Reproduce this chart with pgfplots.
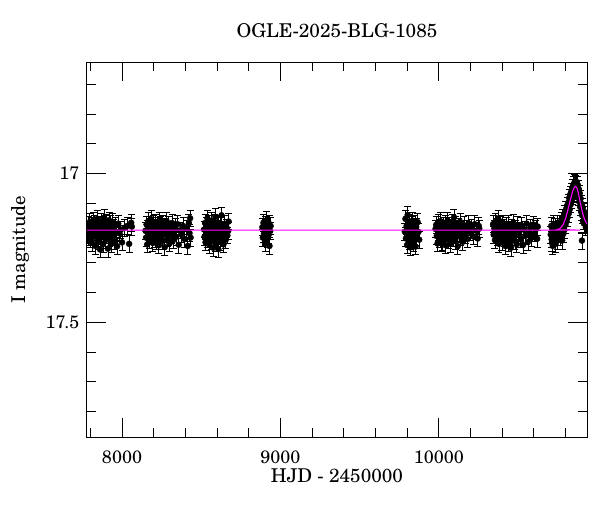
\documentclass[border=0pt]{standalone}
\usepackage{fontspec}
\setmainfont{TeX Gyre Schola}
\usepackage{pgfplots}
\usepackage{pgfplotstable}
\pgfplotsset{compat=1.18}
\definecolor{modelmag}{RGB}{255,0,255}
\newcommand\chartfont{\fontsize{19}{22}\selectfont}
\newcommand\tickfont{\fontsize{18}{21}\selectfont}

% OGLE photometry (HJD-2450000, I mag)
\pgfplotstableread{
x y
7782 17.205
7786 17.172
7789 17.214
7793 17.188
7796 17.163
7800 17.221
7803 17.195
7807 17.176
7810 17.232
7813 17.184
7817 17.158
7820 17.209
7824 17.191
7827 17.168
7831 17.243
7834 17.203
7838 17.179
7841 17.215
7845 17.152
7848 17.197
7852 17.228
7855 17.186
7859 17.171
7862 17.255
7866 17.199
7869 17.162
7873 17.211
7876 17.184
7880 17.237
7883 17.174
7887 17.148
7890 17.206
7894 17.192
7897 17.223
7901 17.165
7904 17.201
7908 17.181
7911 17.252
7915 17.193
7918 17.157
7922 17.218
7925 17.187
7929 17.170
7932 17.236
7936 17.199
7940 17.163
7944 17.208
7948 17.182
7953 17.226
7958 17.175
7963 17.196
7969 17.244
7976 17.168
7984 17.201
7992 17.189
8000 17.231
8015 17.182
8033 17.176
8045 17.236
8058 17.165
8062 17.178
8148 17.192
8152 17.215
8155 17.171
8159 17.238
8162 17.186
8166 17.160
8169 17.207
8173 17.196
8176 17.224
8180 17.178
8183 17.153
8187 17.211
8190 17.189
8194 17.233
8197 17.169
8201 17.202
8204 17.181
8208 17.219
8211 17.164
8215 17.197
8218 17.228
8222 17.175
8225 17.209
8229 17.186
8232 17.241
8236 17.158
8239 17.199
8243 17.213
8246 17.172
8250 17.190
8254 17.226
8258 17.167
8262 17.204
8266 17.183
8270 17.247
8274 17.177
8278 17.201
8282 17.160
8286 17.218
8290 17.192
8295 17.173
8300 17.235
8305 17.188
8310 17.206
8316 17.166
8322 17.224
8328 17.195
8335 17.180
8342 17.212
8350 17.170
8358 17.239
8366 17.191
8375 17.203
8385 17.176
8395 17.220
8405 17.186
8415 17.243
8422 17.166
8426 17.200
8430 17.150
8433 17.215
8518 17.188
8521 17.212
8524 17.166
8527 17.231
8530 17.194
8533 17.174
8536 17.205
8539 17.150
8542 17.221
8545 17.183
8548 17.199
8551 17.240
8554 17.170
8557 17.208
8560 17.186
8563 17.160
8566 17.227
8569 17.193
8572 17.177
8575 17.249
8578 17.202
8581 17.164
8584 17.215
8587 17.189
8590 17.145
8593 17.233
8596 17.196
8599 17.172
8602 17.218
8605 17.185
8608 17.254
8611 17.168
8614 17.203
8617 17.191
8620 17.229
8624 17.175
8628 17.140
8632 17.210
8636 17.187
8640 17.238
8645 17.169
8650 17.199
8655 17.222
8660 17.181
8665 17.208
8670 17.193
8673 17.161
8886 17.180
8889 17.215
8893 17.165
8896 17.202
8900 17.188
8903 17.235
8907 17.171
8910 17.197
8914 17.156
8917 17.221
8921 17.185
8924 17.208
8928 17.168
8931 17.243
8935 17.193
8938 17.176
9785 17.195
9789 17.152
9792 17.218
9796 17.176
9799 17.240
9803 17.139
9806 17.205
9810 17.183
9813 17.227
9817 17.165
9820 17.248
9824 17.191
9827 17.172
9831 17.212
9834 17.158
9838 17.233
9841 17.186
9845 17.201
9849 17.169
9853 17.245
9857 17.180
9861 17.214
9866 17.163
9871 17.196
9876 17.222
9979 17.186
9983 17.172
9987 17.210
9991 17.235
9995 17.166
9999 17.198
10003 17.181
10007 17.219
10011 17.160
10015 17.234
10019 17.188
10023 17.230
10027 17.174
10031 17.196
10035 17.212
10039 17.168
10043 17.241
10047 17.185
10051 17.201
10055 17.158
10059 17.222
10063 17.192
10067 17.176
10071 17.236
10075 17.183
10079 17.207
10083 17.165
10087 17.194
10091 17.217
10095 17.147
10099 17.188
10103 17.226
10107 17.171
10111 17.203
10115 17.184
10119 17.244
10124 17.178
10129 17.199
10134 17.162
10139 17.214
10145 17.190
10151 17.229
10158 17.173
10165 17.205
10172 17.186
10180 17.220
10188 17.168
10197 17.197
10206 17.181
10216 17.211
10226 17.170
10236 17.192
10245 17.218
10252 17.176
10255 17.185
10342 17.170
10346 17.205
10350 17.184
10354 17.223
10358 17.162
10362 17.196
10366 17.178
10370 17.214
10374 17.151
10379 17.236
10382 17.190
10386 17.173
10390 17.208
10394 17.186
10398 17.229
10402 17.167
10406 17.199
10410 17.182
10414 17.217
10418 17.193
10422 17.244
10426 17.176
10430 17.204
10434 17.188
10438 17.232
10442 17.170
10446 17.211
10450 17.195
10455 17.249
10460 17.181
10465 17.214
10470 17.166
10475 17.201
10480 17.226
10486 17.185
10492 17.238
10498 17.173
10504 17.207
10510 17.192
10517 17.221
10524 17.176
10531 17.240
10538 17.188
10546 17.209
10554 17.168
10562 17.230
10570 17.196
10578 17.183
10587 17.215
10596 17.171
10605 17.201
10613 17.186
10620 17.219
10624 17.178
10706 17.205
10709 17.176
10712 17.221
10714 17.232
10716 17.188
10719 17.243
10723 17.170
10726 17.199
10730 17.214
10733 17.180
10737 17.236
10741 17.192
10745 17.168
10748 17.225
10752 17.185
10756 17.203
10760 17.170
10764 17.212
10767 17.188
10771 17.160
10774 17.197
10778 17.225
10781 17.148
10785 17.203
10788 17.158
10792 17.190
10795 17.135
10799 17.172
10802 17.120
10806 17.160
10809 17.108
10812 17.148
10816 17.098
10819 17.135
10822 17.082
10826 17.120
10829 17.070
10832 17.104
10836 17.060
10839 17.090
10842 17.048
10846 17.075
10849 17.038
10852 17.066
10856 17.030
10859 17.058
10862 17.034
10865 17.060
10868 17.028
10871 17.055
10874 17.068
10877 17.038
10880 17.078
10883 17.052
10886 17.095
10889 17.066
10892 17.112
10895 17.084
10898 17.128
10901 17.102
10903 17.225
10904 17.140
10907 17.112
10910 17.160
10913 17.125
10916 17.168
10919 17.138
10925 17.158
10928 17.180
10931 17.150
10934 17.172
}\photdata

% microlensing model curve
\pgfplotstableread{
x y
7779 17.190
10700 17.190
10740 17.189
10760 17.186
10783 17.172
10800 17.150
10815 17.120
10826 17.097
10836 17.076
10845 17.058
10853 17.048
10863 17.043
10870 17.047
10878 17.060
10885 17.078
10893 17.099
10902 17.120
10910 17.138
10920 17.154
10931 17.165
10940 17.172
}\modeldata

\begin{document}
\begin{tikzpicture}
\useasboundingbox (-87pt,-75pt) rectangle (513pt,437pt);
\begin{axis}[
    scale only axis,
    clip marker paths=true,
    width=500pt, height=375pt,
    xmin=7779, xmax=10935,
    ymin=16.625, ymax=17.885,
    y dir=reverse,
    scaled x ticks=false,
    xtick={8000,9000,10000},
    xticklabels={8000,9000,10000},
    minor xtick={7800,8200,8400,8600,8800,9200,9400,9600,9800,10200,10400,10600,10800},
    ytick={17,17.5},
    yticklabels={17,17.5},
    minor ytick={16.7,16.8,16.9,17.1,17.2,17.3,17.4,17.6,17.7,17.8},
    tick align=inside,
    major tick length=19pt,
    minor tick length=9pt,
    every tick/.style={black, line width=0.9pt},
    axis line style={line width=1pt},
    tick label style={font=\tickfont},
    xticklabel style={yshift=-10pt},
    yticklabel style={xshift=-4pt},
    title={OGLE-2025-BLG-1085},
    title style={font=\chartfont, at={(axis description cs:0.5,1)}, anchor=south, yshift=15pt},
    xlabel={HJD - 2450000},
    xlabel style={font=\chartfont, at={(axis description cs:0.5,0)}, anchor=north, yshift=-28pt},
    ylabel={I magnitude},
    ylabel style={font=\chartfont, at={(axis description cs:-0.134,0.5)}, anchor=center},
]
\addplot[only marks, mark=*, mark size=3pt, black,
    error bars/.cd, y dir=both, y fixed=0.028,
    error bar style={line width=0.8pt, black},
    error mark options={rotate=90, mark size=3.5pt, line width=0.8pt, black}]
    table[x=x, y=y] {\photdata};
\addplot[no marks, modelmag, line width=1.1pt, smooth]
    table[x=x, y=y] {\modeldata};
\end{axis}
\end{tikzpicture}
\end{document}
